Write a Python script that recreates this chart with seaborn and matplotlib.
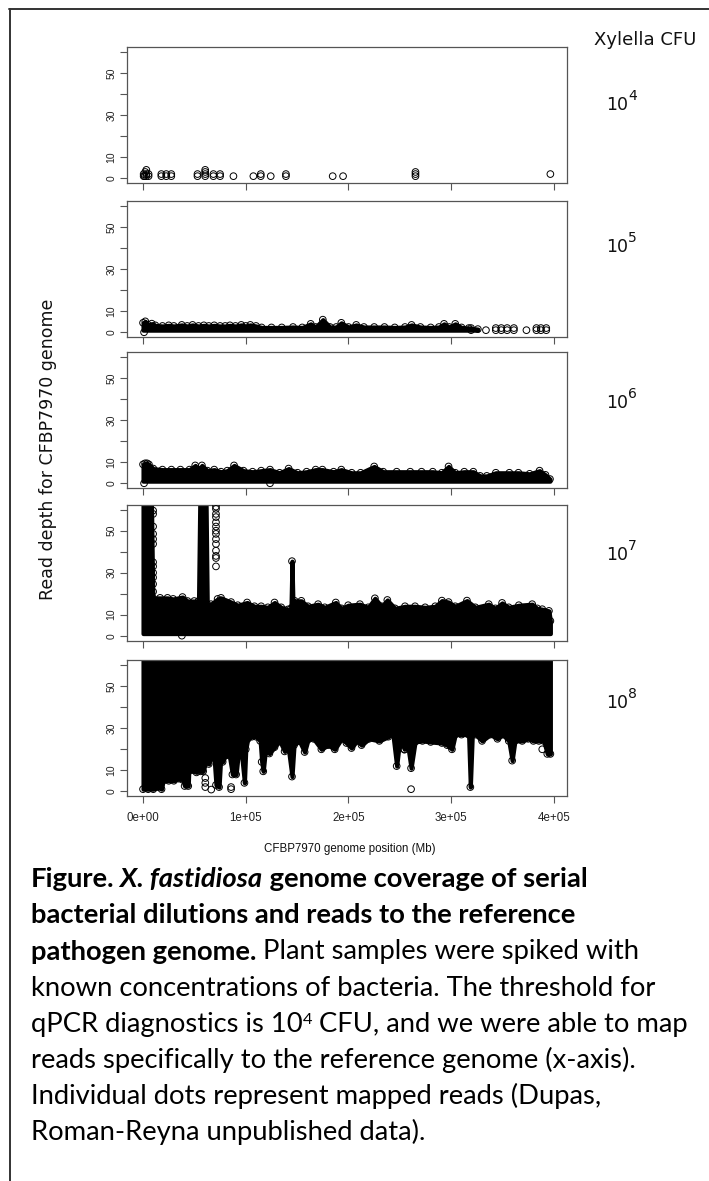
import numpy as np
import pandas as pd
import seaborn as sns
import matplotlib
matplotlib.use("Agg")
from matplotlib import pyplot as plt
from matplotlib.lines import Line2D

# ---------------------------------------------------------------
# values: genome position (bp) and read depth
# depths above the plotted range (60) are clipped in the original
# ---------------------------------------------------------------
cfu_exponents = ["4", "5", "6", "7", "8"]
depth_clip = 70

# 10^4 CFU: only a few reads
p1_pos = [600, 600, 1500, 2200, 3200, 3200, 3200, 5400, 5400,
          17800, 17800, 22600, 22600, 27500, 27500,
          53000, 53000, 60500, 60500, 60500, 60500,
          68500, 68500, 75000, 75000, 88000, 107400, 114600, 114600,
          124300, 139100, 139100, 184600, 194700,
          265200, 265200, 265200, 396500]
p1_depth = [1, 2, 1, 3, 1, 2, 4, 1, 2,
            1, 2, 1, 2, 1, 2,
            1, 2, 1, 2, 3, 4,
            1, 2, 1, 2, 1, 1, 1, 2,
            1, 1, 2, 1, 1,
            1, 2, 3, 2]

# 10^5 CFU: low band, upper edge of the band
p2_floor = 1
p2_pos = [0, 2200, 5000, 8500, 12000, 18900, 25000, 30000, 37700, 43000,
          48200, 54000, 59200, 64000, 69300, 75000, 80000, 84600, 90000, 95600,
          100000, 104400, 110000, 115400, 125000, 135000, 146000, 155000, 163200, 168000,
          175000, 182000, 188000, 193000, 200000, 207500, 215000, 225000, 235000, 245000,
          255000, 261400, 270000, 280000, 288000, 293000, 298000, 303900, 310000, 317100,
          325900]
p2_high = [4.5, 5.2, 3.5, 4.1, 3.3, 3.0, 3.3, 3.0, 3.5, 3.0,
           3.5, 3.0, 3.3, 3.0, 3.3, 3.0, 3.0, 3.3, 3.0, 3.5,
           3.0, 3.5, 3.0, 2.3, 2.3, 2.3, 2.5, 2.3, 4.0, 2.5,
           6.0, 2.5, 2.5, 4.5, 2.5, 3.5, 2.5, 2.5, 2.5, 2.3,
           2.5, 3.5, 2.5, 2.3, 2.5, 4.0, 2.5, 4.0, 2.3, 2.0,
           1.5]
p2_pts_pos = [1000, 319300, 319300, 333800, 343400, 343400, 348700, 348700,
              354400, 354400, 361000, 361000, 373200, 382900, 382900,
              387300, 387300, 392500, 392500]
p2_pts_depth = [0, 1, 2, 1, 1, 2, 1, 2,
                1, 2, 1, 2, 1, 1, 2,
                1, 2, 1, 2]

# 10^6 CFU
p3_floor = 1
p3_pos = [0, 2000, 3900, 5700, 10000, 18900, 27600, 36400, 45200, 50800,
          54000, 57300, 62700, 69300, 75900, 82000, 88600, 97800, 106600, 115000,
          123600, 132900, 141700, 150400, 159200, 168000, 174600, 185500, 193000, 203100,
          211800, 225000, 233800, 246900, 260100, 271100, 282000, 290800, 297400, 303900,
          312700, 321500, 328100, 334600, 343400, 356600, 365400, 376300, 386000, 391700,
          396100]
p3_high = [9.0, 9.5, 9.5, 9.0, 7.0, 6.5, 6.5, 6.5, 6.5, 8.5,
           6.5, 8.5, 6.0, 6.5, 5.5, 6.0, 8.5, 6.0, 5.5, 6.0,
           6.5, 5.0, 7.0, 5.0, 5.5, 6.5, 6.5, 5.5, 6.5, 5.0,
           5.0, 8.0, 5.5, 5.5, 5.5, 5.5, 5.5, 5.0, 8.0, 5.0,
           5.5, 5.5, 3.5, 3.5, 5.0, 5.0, 5.0, 4.5, 6.0, 4.0,
           2.0]
p3_pts_pos = [1000, 123600]
p3_pts_depth = [0, 0]

# 10^7 CFU
p4_floor = 1
p4_pos = [0, 8000, 9500, 16600, 23800, 29300, 38400, 43300, 49800, 54000,
          55400, 61200, 62500, 66100, 72600, 75900, 85700, 92200, 101300, 108500,
          115000, 121500, 128000, 134500, 141000, 144000, 145000, 146000, 147600, 154100,
          160600, 170400, 176900, 187600, 193200, 199700, 211100, 219200, 225700, 232200,
          237800, 245300, 255000, 264800, 274600, 284400, 290900, 297400, 303900, 315300,
          323500, 336500, 343000, 349500, 356000, 365800, 378800, 383700, 388600, 395100,
          396500]
p4_high = [70, 70, 18, 18, 18, 17.5, 18.4, 16.5, 16.5, 16.5,
           70, 70, 15, 15, 17.5, 18, 16, 14.5, 15.8, 14,
           14, 13.5, 15.8, 13.5, 12.5, 13, 35.5, 14, 16.6, 16.6,
           14, 15, 13.5, 15.8, 13, 14.5, 15, 13.5, 17.8, 14,
           17, 13, 14, 14, 13.5, 14, 16.7, 16, 14, 16.7,
           13.5, 15, 13, 15.6, 13.5, 14.5, 15, 13, 12.6, 11.8,
           7]
p4_pts_pos = [9800, 9800, 9800, 9800, 9800, 9800, 9800, 9800, 9800, 9800, 9800, 9800,
              71000, 71000, 71000, 71000, 71000, 71000, 71000,
              71000, 71000, 71000, 71000, 71000, 71000, 71000,
              37800]
p4_pts_depth = [21, 24.6, 27.7, 30, 33, 35, 43.7, 46, 48.5, 52, 58, 59.6,
                33, 37, 38, 40.5, 43.7, 46, 48.5,
                50, 52, 54, 56.5, 58, 60.4, 61.5,
                0]

# 10^8 CFU: almost everything is above 60, lower edge of the mass
p5_pos = [0, 5000, 10000, 14000, 18000, 19500, 25000, 30000, 35000, 38500,
          40500, 44000, 45500, 47000, 52000, 54000, 56000, 58500, 61000, 64000,
          67000, 69000, 71000, 74000, 75500, 77500, 80000, 84000, 87000, 90600,
          92500, 96000, 98700, 100000, 102000, 106000, 110000, 114000, 115500, 117000,
          119000, 123000, 128000, 133000, 137800, 141000, 145000, 147000, 152000, 157300,
          160600, 166000, 173600, 180000, 186600, 193200, 198000, 202900, 208000, 212700,
          220000, 230000, 238800, 243000, 246900, 250000, 254400, 257000, 260900, 264800,
          272000, 280000, 290900, 296000, 300700, 303900, 310000, 316900, 318600, 320500,
          323500, 330000, 338000, 345000, 350000, 356000, 359300, 362000, 369100, 375000,
          380000, 385300, 390000, 393500, 396500]
p5_low = [1, 1, 1, 2, 1, 5, 5, 5, 6, 5.5,
          2.5, 2.5, 22.5, 10, 9, 16, 9.5, 9.5, 14, 13,
          17, 17, 3, 2, 15, 14, 17, 17, 8, 8,
          17, 17, 4, 20, 25, 26, 26, 24, 14, 9.5,
          19, 18, 21, 24, 19, 22, 7, 22, 24, 18.7,
          24.6, 25, 20, 22, 20, 25, 23, 20.6, 24, 22,
          25, 24, 26, 28, 12, 25, 20, 24, 11, 23.5,
          24, 23.5, 23, 22, 20, 27, 27, 27, 2, 27,
          27, 24, 27, 25, 27, 24, 14.6, 24, 24, 25,
          24, 24, 24, 17.8, 17.8]
p5_pts_pos = [60600, 60600, 60600, 66400, 85700, 85700, 254400, 254400, 260900, 388600]
p5_pts_depth = [6.3, 4, 2, 0.8, 1, 2, 19.8, 22.5, 1, 20]

x_ticks = [0, 100000, 200000, 300000, 400000]
x_tick_labels = ["0e+00", "1e+05", "2e+05", "3e+05", "4e+05"]
y_ticks = [0, 10, 20, 30, 40, 50, 60]
y_tick_labels = ["0", "10", "", "30", "", "50", ""]

# ---------------------------------------------------------------
sns.set_style("ticks")
plt.rcParams["font.family"] = ["Liberation Sans", "DejaVu Sans"]

W, H = 709, 1181
fig = plt.figure(figsize=(W / 100, H / 100), dpi=100)
renderer = fig.canvas.get_renderer()


def fx(x):
    return x / W


def fy(y):
    return 1 - y / H


def draw_runs(x0, baseline, runs):
    x = x0
    for text, kw in runs:
        kw = dict(kw)
        rise = kw.pop("rise", 0)
        t = fig.text(fx(x), fy(baseline - rise), text, ha="left", va="baseline", **kw)
        x += t.get_window_extent(renderer=renderer).width
    return x


def open_circles(ax, x, y):
    sns.scatterplot(x=x, y=y, ax=ax, s=23, marker="o", facecolor="none",
                    edgecolor="black", linewidth=0.7, legend=False, zorder=3)


# band = (positions, lower depth, upper depth, ragged edge)
panels = [
    dict(band=None, pts=(p1_pos, p1_depth)),
    dict(band=(p2_pos, p2_floor, p2_high, p2_high), pts=(p2_pts_pos, p2_pts_depth)),
    dict(band=(p3_pos, p3_floor, p3_high, p3_high), pts=(p3_pts_pos, p3_pts_depth)),
    dict(band=(p4_pos, p4_floor, p4_high, p4_high), pts=(p4_pts_pos, p4_pts_depth)),
    dict(band=(p5_pos, p5_low, depth_clip, p5_low), pts=(p5_pts_pos, p5_pts_depth)),
]

ax_left, ax_w, ax_h = 126.7, 440, 136
ax_tops = [47.3, 201.3, 352.3, 504.7, 660.3]
label_baselines = [110, 252, 408, 560, 708]
frame_col = "#555555"

for i, (panel, top) in enumerate(zip(panels, ax_tops)):
    ax = fig.add_axes([fx(ax_left), fy(top + ax_h), ax_w / W, ax_h / H])

    if panel["band"] is not None:
        pos, low, high, edge = panel["band"]
        ax.fill_between(pos, low, high, color="black", linewidth=3.0,
                        joinstyle="round")
        open_circles(ax, pos, edge)

    px, py = panel["pts"]
    open_circles(ax, px, py)

    ax.set_xlim(-15900, 412400)
    ax.set_ylim(-2.4, 62.4)
    ax.set_xticks(x_ticks)
    ax.set_yticks(y_ticks)
    ax.set_yticklabels(y_tick_labels, rotation=90, va="center")
    if i == len(panels) - 1:
        ax.set_xticklabels(x_tick_labels)
    else:
        ax.set_xticklabels([])
    ax.set_xlabel("")
    ax.set_ylabel("")
    ax.tick_params(axis="both", direction="out", length=4.8, width=0.8,
                   color=frame_col, labelcolor="#222222")
    ax.tick_params(axis="x", labelsize=8.3, pad=6.5)
    ax.tick_params(axis="y", labelsize=7.5, pad=2.5)
    for sp in ax.spines.values():
        sp.set_visible(True)
        sp.set_color(frame_col)
        sp.set_linewidth(0.9)

    # CFU label on the right
    draw_runs(606, label_baselines[i], [
        ("10", dict(fontsize=12.5, family="DejaVu Sans", color="#111111")),
        (cfu_exponents[i], dict(fontsize=10, family="DejaVu Sans", color="#111111", rise=10)),
    ])

fig.text(fx(594), fy(45), "Xylella CFU", ha="left", va="baseline",
         fontsize=13, family="DejaVu Sans", color="#111111")
fig.text(fx(48), fy(449), "Read depth for CFBP7970 genome", rotation=90,
         ha="center", va="center", fontsize=12.5, family="DejaVu Sans", color="#111111")
fig.text(fx(350), fy(849), "CFBP7970 genome position (Mb)", ha="center",
         va="center", fontsize=8.3, color="#111111")

# outer frame (top and left only, as in the source page)
fig.add_artist(Line2D([fx(9), fx(709)], [fy(8.5), fy(8.5)], color="#333333", lw=1.4))
fig.add_artist(Line2D([fx(9.5), fx(9.5)], [fy(8.5), fy(1181)], color="#333333", lw=1.4))

# caption ------------------------------------------------------
probe = fig.text(0, 0, "known concentrations of bacteria. The threshold for",
                 fontsize=10, family="Lato")
cap_size = 10 * 629 / probe.get_window_extent(renderer=renderer).width
probe.remove()

reg = dict(fontsize=cap_size, family="Lato", color="black")
bold = dict(reg, weight="bold")
bold_it = dict(bold, style="italic")
sup = dict(reg, fontsize=cap_size * 0.6, rise=8)

caption = [
    [("Figure.", bold), (" X. fastidiosa", bold_it), (" genome coverage of serial", bold)],
    [("bacterial dilutions and reads to the reference", bold)],
    [("pathogen genome.", bold), (" Plant samples were spiked with", reg)],
    [("known concentrations of bacteria. The threshold for", reg)],
    [("qPCR diagnostics is 10", reg), ("4", sup), (" CFU, and we were able to map", reg)],
    [("reads specifically to the reference genome (x-axis).", reg)],
    [("Individual dots represent mapped reads (Dupas,", reg)],
    [("Roman-Reyna unpublished data).", reg)],
]
cap_baselines = [887, 923, 959.5, 996, 1032, 1068, 1104, 1140]
for runs, base in zip(caption, cap_baselines):
    draw_runs(31, base, runs)

fig.savefig("out.png", dpi=100)
